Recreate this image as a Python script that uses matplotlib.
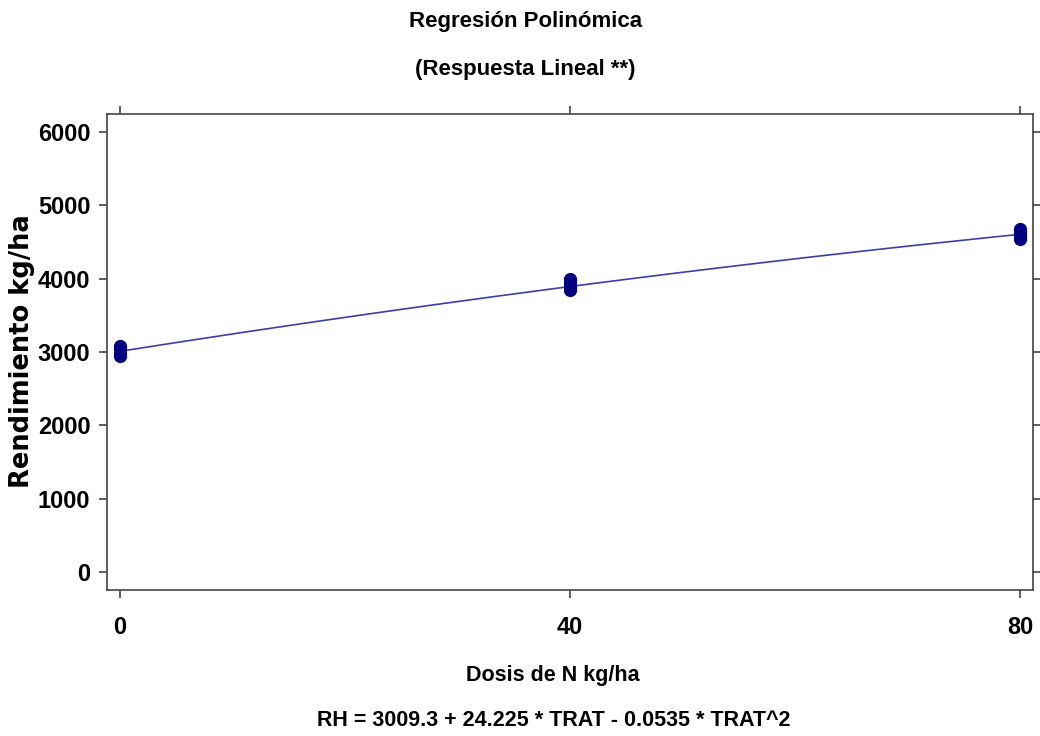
import numpy as np
import matplotlib.pyplot as plt
from matplotlib import font_manager

# dosis de N (kg/ha) y rendimiento observado por repeticion
dosis = [0, 0, 0, 0, 40, 40, 40, 40, 80, 80, 80, 80]
rendimiento = [2950, 2990, 3040, 3080, 3840, 3890, 3940, 3990, 4540, 4590, 4640, 4680]

# coeficientes del ajuste polinomico
b0 = 3009.3
b1 = 24.225
b2 = -0.0535

x_ticks = [0, 40, 80]
y_ticks = [0, 1000, 2000, 3000, 4000, 5000, 6000]

available = {f.name for f in font_manager.fontManager.ttflist}
narrow = "Liberation Sans Narrow" if "Liberation Sans Narrow" in available else "Liberation Sans"
base = "Liberation Sans"

fig = plt.figure(figsize=(10.4, 7.36), dpi=100)
ax = fig.add_axes([107 / 1040, 1 - 590 / 736, (1033 - 107) / 1040, (590 - 114) / 736])

xx = np.linspace(0, 80, 161)
ax.plot(xx, b0 + b1 * xx + b2 * xx ** 2, color="#3d3db0", lw=1.2, zorder=2)
ax.plot(dosis, rendimiento, "o", color="#000080", ms=8.5, mec="#000080", zorder=3)

ax.set_xlim(-1.16, 81.16)
ax.set_ylim(-245, 6245)
ax.set_xticks(x_ticks)
ax.set_yticks(y_ticks)
ax.tick_params(direction="out", length=6, width=1.2, color="#444444",
               top=True, right=True, labelsize=17)
ax.tick_params(axis="y", pad=6)
ax.tick_params(axis="x", pad=13)
for lab in ax.get_xticklabels() + ax.get_yticklabels():
    lab.set_fontfamily(base)
    lab.set_fontweight("bold")
for sp in ax.spines.values():
    sp.set_color("#444444")
    sp.set_linewidth(1.2)

fig.text(0.505, 1 - 22 / 736, "Regresión Polinómica", ha="center", va="center",
         fontsize=16, fontweight="bold", family=narrow)
fig.text(0.505, 1 - 70 / 736, "(Respuesta Lineal **)", ha="center", va="center",
         fontsize=16, fontweight="bold", family=narrow)
fig.text(0.532, 1 - 676 / 736, "Dosis de N kg/ha", ha="center", va="center",
         fontsize=15.5, fontweight="bold", family=narrow)
fig.text(0.532, 1 - 720 / 736,
         f"RH = {b0} + {b1} * TRAT - {abs(b2)} * TRAT^2",
         ha="center", va="center", fontsize=15.5, fontweight="bold", family=narrow)
fig.text(22 / 1040, 1 - 351 / 736, "Rendimiento kg/ha", ha="center", va="center",
         rotation=90, fontsize=18.5, fontweight="bold", family="DejaVu Sans")

fig.savefig("out.png", dpi=100)
